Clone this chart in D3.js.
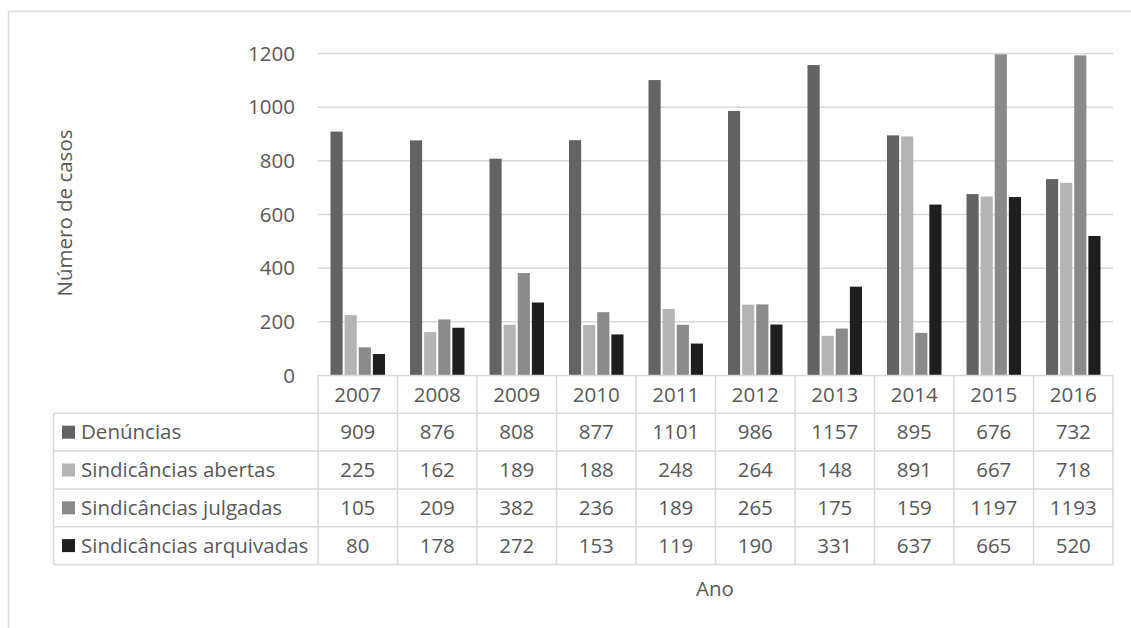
<!DOCTYPE html>
<html>
<head>
<meta charset="utf-8">
<script src="https://cdn.jsdelivr.net/npm/d3@7/dist/d3.min.js"></script>
<style>
  html, body { margin: 0; padding: 0; background: #fff; }
  svg { display: block; }
  text { font-family: "Open Sans", "Liberation Sans", sans-serif; fill: #595959; }
</style>
</head>
<body>
<svg id="chart" width="1131" height="628"></svg>
<script>
const years = ["2007","2008","2009","2010","2011","2012","2013","2014","2015","2016"];
const seriesNames = ["Denúncias","Sindicâncias abertas","Sindicâncias julgadas","Sindicâncias arquivadas"];
const denuncias = [909, 876, 808, 877, 1101, 986, 1157, 895, 676, 732];
const abertas = [225, 162, 189, 188, 248, 264, 148, 891, 667, 718];
const julgadas = [105, 209, 382, 236, 189, 265, 175, 159, 1197, 1193];
const arquivadas = [80, 178, 272, 153, 119, 190, 331, 637, 665, 520];
const colors = ["#636363", "#b4b4b4", "#8a8a8a", "#1e1e1e"];
const yTicks = [0, 200, 400, 600, 800, 1000, 1200];

const seriesValues = [denuncias, abertas, julgadas, arquivadas];

(function () {
const svg = d3.select("#chart");
const fontSize = 20.5;

// outer border
svg.append("rect").attr("x", 8.5).attr("y", 11.5).attr("width", 1140).attr("height", 640)
  .attr("fill", "none").attr("stroke", "#d9d9d9").attr("stroke-width", 1.5);

const pLeft = 318, pRight = 1113, pTop = 53.5, pBottom = 375.5;
const x0 = d3.scaleBand().domain(years).range([pLeft, pRight]).padding(0);
const y = d3.scaleLinear().domain([0, 1200]).range([pBottom, pTop]);
const groupW = 54.5;
const x1 = d3.scaleBand().domain(seriesNames.map((d, i) => i)).range([-groupW / 2, groupW / 2]).paddingInner(0.14);

// gridlines
svg.append("g").selectAll("line").data(yTicks.filter(t => t > 0)).join("line")
  .attr("x1", pLeft).attr("x2", pRight)
  .attr("y1", d => y(d)).attr("y2", d => y(d))
  .attr("stroke", "#d9d9d9").attr("stroke-width", 1.5);

// y axis labels
const yAxis = d3.axisLeft(y).tickValues(yTicks).tickFormat(d3.format("d")).tickSize(0).tickPadding(0);
const ga = svg.append("g").attr("transform", `translate(295,0)`).call(yAxis);
ga.select(".domain").remove();
ga.selectAll("text").attr("font-size", fontSize).attr("fill", "#595959")
  .style("font-family", '"Open Sans", "Liberation Sans", sans-serif');

// bars
seriesValues.forEach((vals, si) => {
  svg.append("g").selectAll("rect").data(vals).join("rect")
    .attr("x", (d, i) => x0(years[i]) + x0.bandwidth() / 2 + x1(si))
    .attr("width", x1.bandwidth())
    .attr("y", d => y(d))
    .attr("height", d => y(0) - y(d))
    .attr("fill", colors[si]);
});

// data table
const rowH = 37.8;
const tableTop = pBottom;
const legendLeft = 53.5;
const grid = svg.append("g").attr("stroke", "#d9d9d9").attr("stroke-width", 1.5).attr("fill", "none");
grid.append("line").attr("x1", pLeft).attr("x2", pRight).attr("y1", tableTop).attr("y2", tableTop);
for (let r = 1; r <= 5; r++) {
  grid.append("line").attr("x1", legendLeft).attr("x2", pRight)
    .attr("y1", tableTop + r * rowH).attr("y2", tableTop + r * rowH);
}
years.forEach((yr) => {
  grid.append("line").attr("x1", x0(yr)).attr("x2", x0(yr)).attr("y1", tableTop).attr("y2", tableTop + 5 * rowH);
});
grid.append("line").attr("x1", pRight).attr("x2", pRight).attr("y1", tableTop).attr("y2", tableTop + 5 * rowH);
grid.append("line").attr("x1", legendLeft).attr("x2", legendLeft).attr("y1", tableTop + rowH).attr("y2", tableTop + 5 * rowH);

// header years
svg.append("g").selectAll("text").data(years).join("text")
  .attr("x", d => x0(d) + x0.bandwidth() / 2)
  .attr("y", tableTop + rowH / 2)
  .attr("dy", "0.35em").attr("text-anchor", "middle").attr("font-size", fontSize)
  .text(d => d);

// rows
seriesValues.forEach((vals, si) => {
  const cy = tableTop + (si + 1) * rowH + rowH / 2;
  svg.append("rect").attr("x", 62).attr("y", cy - 6.5).attr("width", 13).attr("height", 13).attr("fill", colors[si]);
  svg.append("text").attr("x", 81).attr("y", cy).attr("dy", "0.35em").attr("font-size", fontSize)
    .text(seriesNames[si]);
  svg.append("g").selectAll("text").data(vals).join("text")
    .attr("x", (d, i) => x0(years[i]) + x0.bandwidth() / 2)
    .attr("y", cy).attr("dy", "0.35em").attr("text-anchor", "middle").attr("font-size", fontSize)
    .text(d => d);
});

// axis titles
svg.append("text").attr("transform", "translate(65,213) rotate(-90)")
  .attr("text-anchor", "middle").attr("dy", "0.35em").attr("font-size", fontSize)
  .text("Número de casos");
svg.append("text").attr("x", 715).attr("y", 589).attr("text-anchor", "middle").attr("dy", "0.35em")
  .attr("font-size", fontSize).text("Ano");
})();
</script>
</body>
</html>
